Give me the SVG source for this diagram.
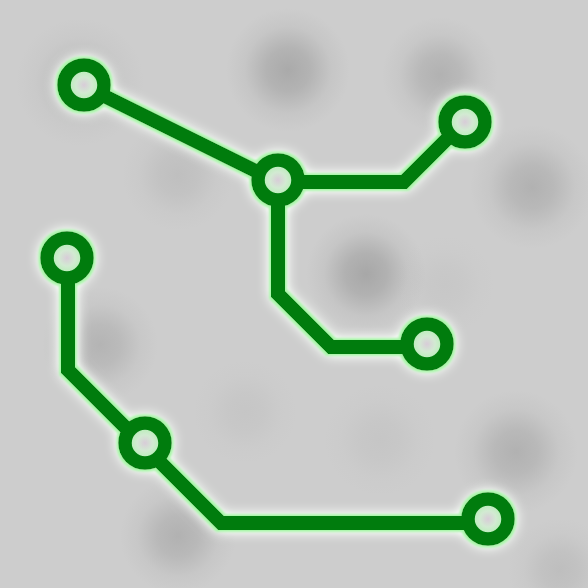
<svg xmlns="http://www.w3.org/2000/svg" width="588" height="588" viewBox="0 0 588 588">
  <defs>
    <radialGradient id="blobg">
      <stop offset="0" stop-color="#8a8a8a" stop-opacity="0.75"/>
      <stop offset="0.35" stop-color="#8a8a8a" stop-opacity="0.55"/>
      <stop offset="0.7" stop-color="#8a8a8a" stop-opacity="0.15"/>
      <stop offset="1" stop-color="#8a8a8a" stop-opacity="0"/>
    </radialGradient>
    <filter id="glow" x="-10%" y="-10%" width="120%" height="120%">
      <feMorphology in="SourceAlpha" operator="dilate" radius="2" result="d"/>
      <feGaussianBlur in="d" stdDeviation="1.3" result="b1"/>
      <feFlood flood-color="#a6f6a6"/>
      <feComposite in2="b1" operator="in" result="g1"/>
      <feGaussianBlur in="SourceAlpha" stdDeviation="7" result="b2"/>
      <feComponentTransfer in="b2" result="b2s"><feFuncA type="linear" slope="2.4"/></feComponentTransfer>
      <feFlood flood-color="#f0f4f0"/>
      <feComposite in2="b2s" operator="in" result="g2"/>
      <feMerge><feMergeNode in="g2"/><feMergeNode in="g1"/><feMergeNode in="SourceGraphic"/></feMerge>
    </filter>
    <radialGradient id="hole">
      <stop offset="0" stop-color="#d8ccd8"/>
      <stop offset="0.4" stop-color="#d2ead2"/>
      <stop offset="1" stop-color="#a4f2a4"/>
    </radialGradient>
  </defs>
  <style>
    .trace { fill: none; stroke: #037c0f; stroke-width: 14; stroke-linejoin: miter; stroke-linecap: butt; }
    .ring { fill: url(#hole); stroke: #037c0f; stroke-width: 13.5; }
    .blob { fill: url(#blobg); }
  </style>
  <rect width="588" height="588" fill="#cdcdcd"/>
  <g>
    <circle class="blob" cx="288" cy="70" r="62" opacity="0.7"/>
    <circle class="blob" cx="440" cy="75" r="58" opacity="0.55"/>
    <circle class="blob" cx="532" cy="187" r="62" opacity="0.55"/>
    <circle class="blob" cx="366" cy="274" r="60" opacity="0.75"/>
    <circle class="blob" cx="100" cy="345" r="58" opacity="0.5"/>
    <circle class="blob" cx="178" cy="536" r="58" opacity="0.55"/>
    <circle class="blob" cx="516" cy="452" r="62" opacity="0.55"/>
    <circle class="blob" cx="80" cy="82" r="64" opacity="0.35"/>
    <circle class="blob" cx="178" cy="175" r="56" opacity="0.28"/>
    <circle class="blob" cx="380" cy="440" r="56" opacity="0.15"/>
    <circle class="blob" cx="245" cy="412" r="52" opacity="0.15"/>
    <circle class="blob" cx="560" cy="570" r="52" opacity="0.3"/>
    <circle class="blob" cx="445" cy="285" r="50" opacity="0.12"/>
  </g>
  <g filter="url(#glow)">
    <g id="connectors">
      <path class="trace" d="M84,86 L278,182"/>
      <path class="trace" d="M278,182 H404 L464,122"/>
      <path class="trace" d="M278,182 V294 L331,347 H427"/>
      <path class="trace" d="M68,258 V370 L221,523 H488"/>
    </g>
    <g id="n1"><circle class="ring" cx="84" cy="85" r="20"/></g>
    <g id="n2"><circle class="ring" cx="278" cy="180" r="20"/></g>
    <g id="n3"><circle class="ring" cx="465" cy="122" r="20"/></g>
    <g id="n4"><circle class="ring" cx="427" cy="344" r="20"/></g>
    <g id="n5"><circle class="ring" cx="67" cy="258" r="20"/></g>
    <g id="n6"><circle class="ring" cx="145" cy="443" r="20"/></g>
    <g id="n7"><circle class="ring" cx="488" cy="519" r="20"/></g>
  </g>
</svg>
